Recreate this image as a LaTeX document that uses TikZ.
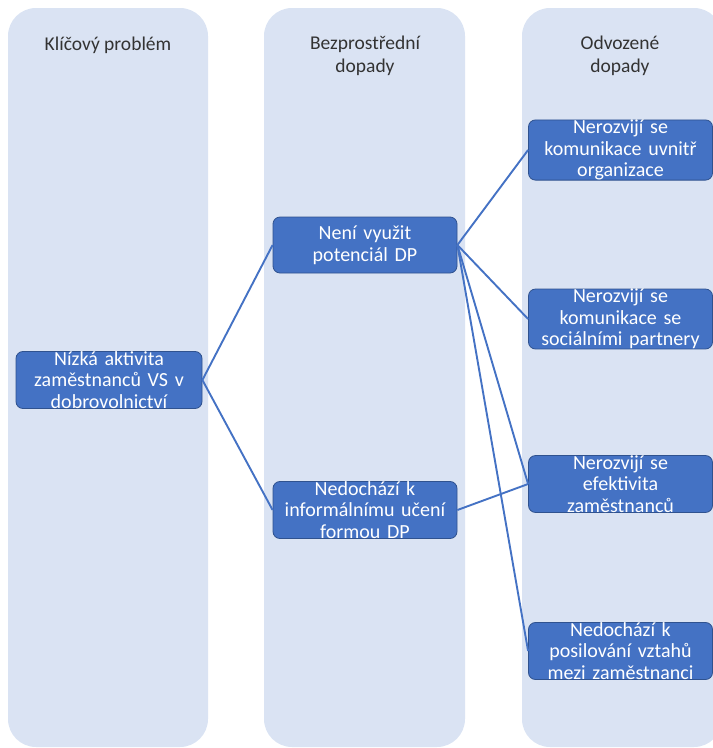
\documentclass[tikz,border=0pt]{standalone}
\usepackage{fontspec}
\setmainfont{Carlito}
\usepackage{tikz}
\definecolor{colbg}{RGB}{218,227,243}
\definecolor{boxblue}{RGB}{68,114,196}
\definecolor{boxedge}{RGB}{47,82,143}
\tikzset{
  column/.style={fill=colbg, rounded corners=28pt},
  heading/.style={align=center, text=black!80, font=\fontsize{19.5}{23}\selectfont},
  impact/.style={fill=boxblue, draw=boxedge, line width=0.8pt, rounded corners=7pt,
    minimum width=184pt, minimum height=56pt, text width=182pt, inner sep=0pt,
    align=center, text=white, font=\fontsize{20}{21.5}\selectfont},
  link/.style={draw=boxblue, line width=1.9pt}
}

\begin{document}
\begin{tikzpicture}[x=1pt,y=-1pt]
    \useasboundingbox (0,0) rectangle (713,748);
    \clip (0,0) rectangle (713,748);

    % Columns
    \fill[column] (8,8) rectangle (208,747);
    \fill[column] (264,8) rectangle (465,747);
    \fill[column] (522,8) rectangle (722,747);

    % Headings
    \node[heading] (hkey) at (108,45) {Klíčový problém};
    \node[heading] (hnear) at (365,56) {Bezprostřední\\dopady};
    \node[heading] (hfar) at (620,56) {Odvozené\\dopady};

    % Boxes
    \node[impact, minimum width=186pt] (low) at (109,380) {Nízká aktivita\\zaměstnanců VS v\\dobrovolnictví};
    \node[impact] (pot) at (365,245) {Není využit\\potenciál DP};
    \node[impact] (learn) at (365,510) {Nedochází k\\informálnímu učení\\formou DP};
    \node[impact] (inner) at (620.5,150) {Nerozvijí se\\komunikace uvnitř\\organizace};
    \node[impact] (social) at (620.5,319) {Nerozvijí se\\komunikace se\\sociálními partnery};
    \node[impact] (eff) at (620.5,484) {Nerozvijí se\\efektivita\\zaměstnanců};
    \node[impact] (ties) at (620.5,651) {Nedochází k\\posilování vztahů\\mezi zaměstnanci};

    % Links
    \draw[link] (low.east) -- (pot.west);
    \draw[link] (low.east) -- (learn.west);
    \draw[link] (pot.east) -- (inner.west);
    \draw[link] (pot.east) -- (social.west);
    \draw[link] (pot.east) -- (eff.west);
    \draw[link] (pot.east) -- (ties.west);
    \draw[link] (learn.east) -- (eff.west);
\end{tikzpicture}
\end{document}
